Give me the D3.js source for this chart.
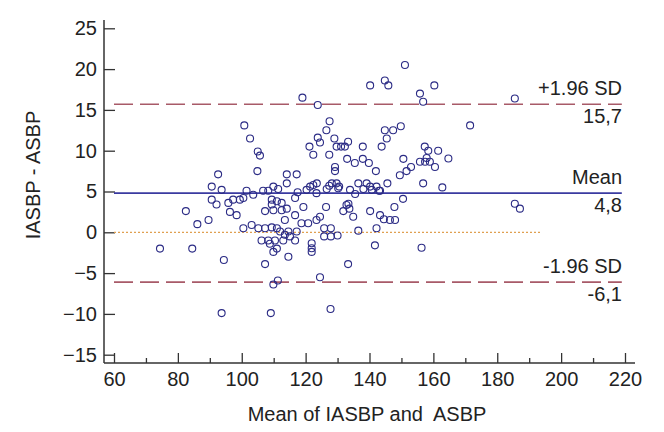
<!DOCTYPE html>
<html><head><meta charset="utf-8">
<script src="https://cdn.jsdelivr.net/npm/d3@7"></script>
<style>html,body{margin:0;padding:0;background:#fff}</style>
</head><body><svg id="c" width="664" height="432"></svg>
<script>
const meanVals = [74.4,82.5,84.5,86.1,89.6,90.6,90.6,93.7,94.4,107.3,109.9,111.3,109.1,
92.6,92.1,93.7,95.8,97.3,99.4,96.3,98.4,101.5,103.6,104.9,105.0,105.7,102.6,100.8,106.7,108.3,109.9,111.4,109.4,109.4,111.0,109.9,112.5,112.5,107.3,114.1,116.7,116.7,113.5,119.3,118.7,114.1,117.2,114.1,
100.5,103.1,105.2,107.3,109.4,111.0,112.0,114.6,117.2,106.2,108.3,110.4,113.0,116.7,108.8,111.0,113.5,115.1,109.9,114.6,100.5,
119.0,123.8,127.5,126.5,129.0,133.3,123.8,124.5,121.2,122.4,129.7,131.1,132.3,127.4,137.9,143.8,140.2,144.8,145.9,144.8,147.4,145.4,149.8,151.1,160.3,155.8,156.8,
133.0,135.4,137.9,139.8,129.2,129.2,142.0,150.6,149.5,151.6,153.0,157.3,158.4,161.5,157.9,155.8,157.4,158.9,160.5,164.7,171.5,
122.4,121.4,123.5,127.4,128.2,129.7,130.5,136.5,139.1,140.2,142.2,143.0,145.6,156.8,162.8,150.5,133.4,133.7,147.8,126.4,
120.3,123.4,126.6,130.2,133.9,138.1,140.7,143.3,131.8,134.9,140.2,143.3,144.5,146.4,148.0,120.8,123.4,124.5,125.8,127.9,125.8,127.9,130.0,136.5,142.2,
121.9,121.9,121.9,141.7,156.3,133.3,124.5,127.8,185.5,185.5,187.1,117.5,135.5,132.8];
const diffVals = [-2.0,2.6,-2.0,1.0,1.5,5.6,4.0,-9.9,-3.4,-3.9,-6.4,-5.9,-9.9,
7.1,3.4,5.2,3.6,4.0,4.0,2.5,2.1,5.1,4.6,7.5,9.9,9.4,11.5,13.1,5.1,5.1,5.6,5.3,4.0,3.4,3.8,2.7,3.6,2.7,2.6,2.9,4.2,2.1,1.5,3.1,1.1,7.1,7.1,6.0,
0.5,0.9,0.5,0.5,0.6,0.5,0.1,0.1,0.1,-1.0,-1.0,-1.0,-1.0,-1.0,-1.4,-2.0,-0.3,-0.5,-2.4,-3.0,4.2,
16.5,15.6,13.6,12.5,11.5,11.1,11.6,11.0,10.5,9.5,10.5,10.5,10.5,9.5,10.5,10.5,18.0,18.6,18.0,12.5,12.5,11.5,13.0,20.5,18.0,17.0,16.0,
9.0,8.5,9.0,8.5,8.0,7.5,7.5,9.0,7.0,7.5,8.0,10.5,10.0,10.0,9.1,8.65,8.65,8.65,8.0,9.05,13.1,
5.8,5.6,6.0,5.7,6.0,6.0,5.6,6.0,6.0,5.6,5.6,5.1,6.0,6.0,5.5,4.1,3.5,2.9,3.1,3.1,
5.2,4.8,5.3,5.4,5.2,5.3,5.2,5.1,2.6,1.9,2.6,2.1,1.6,1.5,1.5,1.1,1.5,1.9,0.5,0.5,-0.5,-0.5,-0.4,0.2,0.5,
-1.35,-1.96,-2.4,-1.6,-1.9,-3.9,-5.5,-9.4,16.4,3.5,2.9,4.9,4.7,3.35];
const xTicks = [60,80,100,120,140,160,180,200,220];
const xMinorTicks = [70,90,110,130,150,170,190,210];
const yTicks = [-15,-10,-5,0,5,10,15,20,25];
const meanDiff = 4.8, upperLoA = 15.7, lowerLoA = -6.1;
const zeroLineEnd = 194;
const lineLabels = [
  {v: upperLoA, top: "+1.96 SD", bottom: "15,7", cls: "loa"},
  {v: meanDiff, top: "Mean", bottom: "4,8", cls: "mean"},
  {v: lowerLoA, top: "-1.96 SD", bottom: "-6,1", cls: "loa"}
];

const svg = d3.select("#c");
const font = "Liberation Sans, Arial, sans-serif";
const fs = 20;
const x = d3.scaleLinear().domain([60,220]).range([114,625]);
const y = d3.scaleLinear().domain([-15,25]).range([354.7,28.3]);
const axX = 104, axY = 363;

const gx = svg.append("g").attr("transform",`translate(0,${axY})`)
  .call(d3.axisBottom(x).tickValues(xTicks).tickSize(-10).tickPadding(9).tickFormat(d3.format("d")));
const gxm = svg.append("g").attr("transform",`translate(0,${axY})`)
  .call(d3.axisBottom(x).tickValues(xMinorTicks).tickSize(-5).tickFormat(""));
const gy = svg.append("g").attr("transform",`translate(${axX},0)`)
  .call(d3.axisLeft(y).tickValues(yTicks).tickSize(-11).tickPadding(7).tickFormat(d3.format("d")));
[gx,gxm,gy].forEach(g=>{
  g.select(".domain").remove();
  g.selectAll(".tick line").attr("stroke","#333").attr("stroke-width",1.3);
  g.selectAll("text").attr("font-family",font).attr("font-size",fs).attr("fill","#222");
});
svg.append("line").attr("x1",axX).attr("x2",635).attr("y1",axY).attr("y2",axY).attr("stroke","#333").attr("stroke-width",1.5);
svg.append("line").attr("x1",axX).attr("x2",axX).attr("y1",20).attr("y2",axY).attr("stroke","#333").attr("stroke-width",1.5);

svg.append("text").attr("x",367).attr("y",421).attr("text-anchor","middle")
  .attr("font-family",font).attr("font-size",fs).attr("fill","#222").attr("xml:space","preserve")
  .text("Mean of IASBP and  ASBP");
svg.append("text").attr("transform","translate(40,175) rotate(-90)").attr("text-anchor","middle")
  .attr("font-family",font).attr("font-size",fs).attr("fill","#222").text("IASBP - ASBP");

svg.append("line").attr("x1",x(60)).attr("x2",x(zeroLineEnd)).attr("y1",y(0)).attr("y2",y(0))
  .attr("stroke","#e0a050").attr("stroke-width",1.2).attr("stroke-dasharray","2,2");

lineLabels.forEach(l=>{
  const ln = svg.append("line").attr("x1",x(60)).attr("x2",x(219)).attr("y1",y(l.v)).attr("y2",y(l.v));
  if (l.cls==="mean") ln.attr("stroke","#3a3aa0").attr("stroke-width",1.6);
  else ln.attr("stroke","#a85a68").attr("stroke-width",1.6).attr("stroke-dasharray","19,7");
  svg.append("text").attr("x",622).attr("y",y(l.v)-9).attr("text-anchor","end")
    .attr("font-family",font).attr("font-size",fs).attr("fill","#222").text(l.top);
  svg.append("text").attr("x",622).attr("y",y(l.v)+19).attr("text-anchor","end")
    .attr("font-family",font).attr("font-size",fs).attr("fill","#222").text(l.bottom);
});

const pts = meanVals.map((m,i)=>({m, d: diffVals[i]}));
svg.append("g").selectAll("circle").data(pts).join("circle")
  .attr("cx",p=>x(p.m)).attr("cy",p=>y(p.d)).attr("r",3.5)
  .attr("fill","none").attr("stroke","#2b2b85").attr("stroke-width",1.1);
</script></body></html>
